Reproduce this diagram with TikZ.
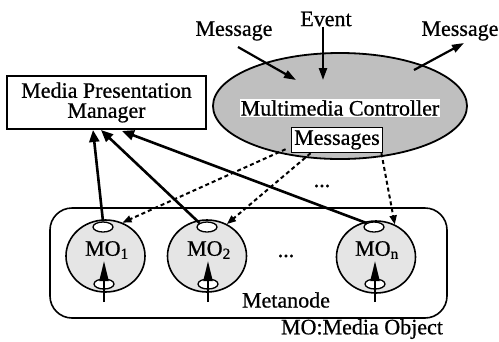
\documentclass[tikz,border=0pt]{standalone}
\usepackage{fontspec}
\setmainfont{Liberation Serif}[FakeBold=0.7]
\usetikzlibrary{arrows.meta,shapes.geometric}

\begin{document}
\begin{tikzpicture}[x=1pt,y=-1pt,
  font=\fontsize{22}{18}\selectfont,
  thickarrow/.style={line width=2.6pt,-{Triangle[length=12pt,width=10pt]}},
  msgarrow/.style={line width=2.2pt,-{Triangle[length=12pt,width=8pt]}},
  dotarrow/.style={line width=2pt,dash pattern=on 4pt off 3pt,-{Triangle[length=9pt,width=7pt]}},
  moball/.style={ellipse,draw,line width=1.6pt,fill=gray!20,minimum width=79pt,minimum height=72pt,inner sep=0pt},
  port/.style={ellipse,draw,line width=1.3pt,fill=white,minimum width=20pt,minimum height=10pt,inner sep=0pt},
  inport/.style={line width=2pt,-{Triangle[length=20pt,width=9pt]}},
  label/.style={inner sep=0pt}]
\useasboundingbox (0,0) rectangle (499,341);

% metanode container
\node[draw,rounded corners=22pt,line width=1.6pt,minimum width=397pt,minimum height=110pt] (meta) at (248.5,263) {};
\node[label] (metalbl) at (286,300) {Metanode};
\node[label] (molegend) at (362,329) {MO:Media Object};

% media objects
\node[moball] (mo1) at (105.5,256) {};
\node[moball] (mo2) at (207,256) {};
\node[moball] (mon) at (376,257) {};
\node[label] (mo1t) at (107,250) {MO\textsubscript{1}};
\node[label] (mo2t) at (209,250) {MO\textsubscript{2}};
\node[label] (mont) at (377,250) {MO\textsubscript{n}};
\node[label] (dotsa) at (286,256) {...};

% ports on each media object
\foreach \n/\x in {1/103,2/207,n/374}{
  \node[port] (p\n t) at (\x,227) {};
  \node[port] (p\n b) at (\x+1,284) {};
  \coordinate (s\n) at (\x+1,302);
  \coordinate (a\n) at (\x+1,261);
  \draw[inport] (s\n) -- (a\n);
}

% presentation manager
\node[draw,line width=1.6pt,minimum width=199pt,minimum height=53pt,align=center,inner sep=0pt,
      font=\fontsize{22}{20}\selectfont] (mpm) at (106.5,102.5) {Media Presentation\\Manager};

% multimedia controller
\node[ellipse,draw,line width=1.8pt,fill=gray!50,minimum width=254pt,minimum height=106pt] (mc) at (340,106) {};
\node[fill=white,inner sep=1pt] (mctext) at (340,108) {Multimedia Controller};
\node[draw,fill=white,line width=1.3pt,inner sep=3pt] (msgs) at (337,140) {Messages};
\node[label] (dotsb) at (322,186) {...};

% external messages and event
\node[label] (msgl) at (234,31) {Message};
\node[label] (event) at (326,19) {Event};
\node[label] (msgr) at (460,31) {Message};
\coordinate (ml) at (238,47);
\coordinate (mlend) at (296,80);
\coordinate (evend) at (323,80);
\coordinate (mrs) at (414,70);
\coordinate (mrend) at (464,43);
\draw[msgarrow] (ml) -- (mlend);
\draw[msgarrow] (event.south -| evend) -- (evend);
\draw[msgarrow] (mrs) -- (mrend);

% reports to the presentation manager
\coordinate (m1) at (93,130);
\coordinate (m2) at (101,130);
\coordinate (m3) at (122,131);
\draw[thickarrow] (p1t.north) -- (m1);
\draw[thickarrow] (p2t.north west) -- (m2);
\draw[thickarrow] (pnt.north west) -- (m3);

% controller messages to media objects
\draw[dotarrow] ([xshift=-5pt,yshift=4pt]msgs.south west) -- (mo1.63);
\draw[dotarrow] ([xshift=20pt]msgs.south west) -- (mo2.58);
\draw[dotarrow] ([xshift=-2pt]msgs.south east) -- (mon.60);
\end{tikzpicture}
\end{document}
